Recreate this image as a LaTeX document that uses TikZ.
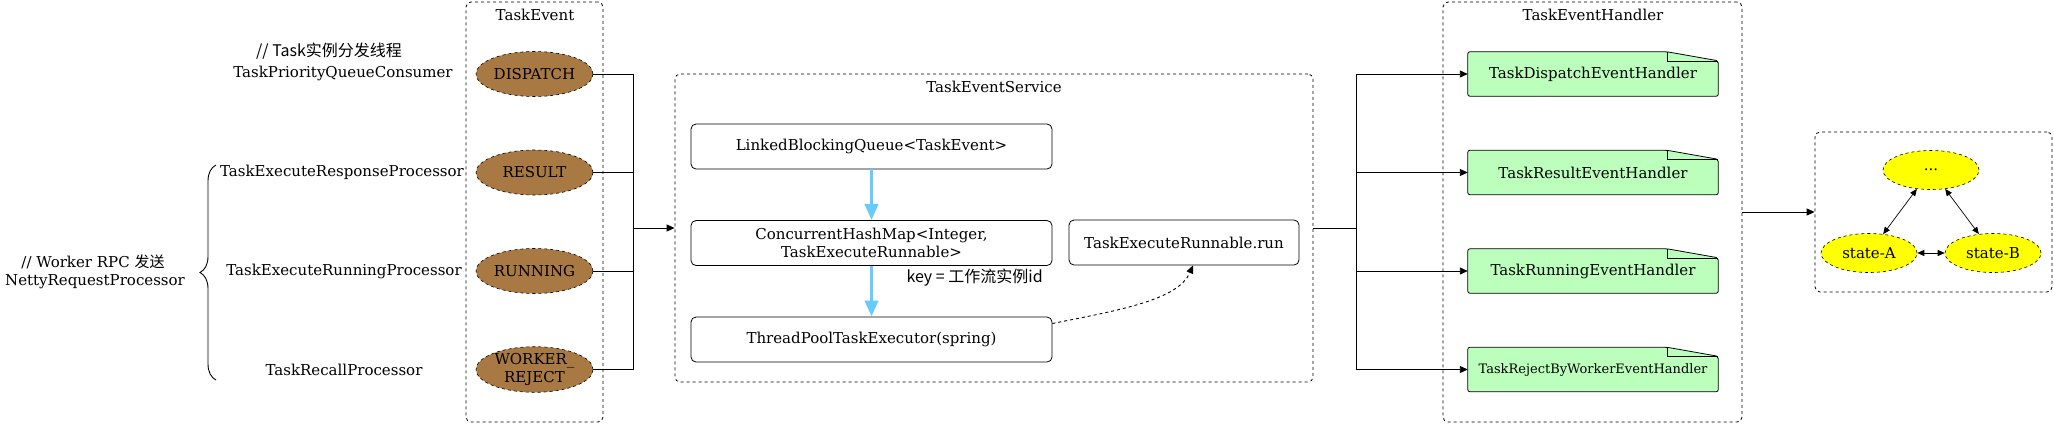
\documentclass[tikz,border=0pt]{standalone}
\usepackage{fontspec}
\setmainfont{DejaVu Serif}
\newfontfamily\cjk{Noto Sans CJK SC}
\usepackage{xcolor}
\usepackage{tikz}
\usetikzlibrary{arrows.meta,positioning,shapes.geometric,decorations.pathreplacing,backgrounds}
\definecolor{evbrown}{RGB}{168,121,66}
\definecolor{notegreen}{RGB}{188,255,188}
\definecolor{flowblue}{RGB}{102,204,255}
\definecolor{stateyellow}{RGB}{255,255,0}

\begin{document}
\begin{tikzpicture}[x=1pt,y=-1pt,
    font=\fontsize{15}{18}\selectfont,
    group/.style={draw, dashed, rounded corners=5pt, line width=0.8pt},
    evnode/.style={ellipse, draw, dashed, fill=evbrown, minimum width=117pt, minimum height=45pt, inner sep=0pt, align=center, line width=0.6pt},
    svcbox/.style={draw, rounded corners=5pt, minimum height=45pt, align=center, line width=0.8pt},
    handler/.style={minimum width=250pt, minimum height=44pt, inner sep=0pt},
    state/.style={ellipse, draw, dashed, fill=stateyellow, minimum width=96pt, minimum height=39pt, inner sep=0pt, line width=0.6pt},
    comment/.style={font=\cjk\fontsize{16}{18}\selectfont},
    conn/.style={line width=0.9pt},
    arr/.style={conn, -{Triangle[length=8pt,width=7pt]}},
    flow/.style={draw=flowblue, line width=3.5pt, -{Triangle[length=16pt,width=13pt]}},
    biarr/.style={line width=0.7pt, {Triangle[length=7pt,width=6pt]}-{Triangle[length=7pt,width=6pt]}}
]
    \useasboundingbox (0,0) rectangle (2054,424);

    % Containers
    \node[group, minimum width=137pt, minimum height=420pt] (evGroup) at (534.5,212) {};
    \node[group, minimum width=638pt, minimum height=308pt] (svcGroup) at (994,228) {};
    \node[group, minimum width=299pt, minimum height=420pt] (hdlGroup) at (1592.5,212) {};
    \node[group, minimum width=237pt, minimum height=160pt] (stGroup) at (1933.5,212) {};
    \node (evTitle) at (535,15) {TaskEvent};
    \node (svcTitle) at (994,87) {TaskEventService};
    \node (hdlTitle) at (1593,15) {TaskEventHandler};

    % Sources
    \node[comment] (cmtDispatch) at (329,51) {// Task实例分发线程};
    \node (srcConsumer) at (343,73) {TaskPriorityQueueConsumer};
    \node (srcResponse) at (342,172) {TaskExecuteResponseProcessor};
    \node (srcRunning) at (344,271) {TaskExecuteRunningProcessor};
    \node (srcRecall) at (344,370) {TaskRecallProcessor};
    \node (cmtWorker) at (93,262) {// Worker RPC {\cjk 发送}};
    \node (srcNetty) at (95,282) {NettyRequestProcessor};
    \draw[decorate, decoration={brace, amplitude=16pt}, line width=0.9pt] (216,380) -- (216,165);

    % Events
    \node[evnode] (evDispatch) at (534.5,74) {DISPATCH};
    \node[evnode] (evResult) at (534.5,172.5) {RESULT};
    \node[evnode] (evRunning) at (534.5,271) {RUNNING};
    \node[evnode] (evReject) at (534.5,369.5) {WORKER\char`_\\REJECT};

    \coordinate (busL) at (633,228);
    \foreach \e in {evDispatch,evResult,evRunning,evReject} {
        \draw[conn] (\e.east) -| (busL);
    }
    \draw[arr] (busL) -- (svcGroup.west);

    % Service internals
    \node[svcbox, minimum width=361pt] (lbq) at (871.5,146.5) {LinkedBlockingQueue<TaskEvent>};
    \node[svcbox, minimum width=361pt] (chm) at (871.5,243) {ConcurrentHashMap<Integer,\\TaskExecuteRunnable>};
    \node[svcbox, minimum width=361pt] (tpte) at (871.5,339.5) {ThreadPoolTaskExecutor(spring)};
    \node[svcbox, minimum width=230pt] (ter) at (1184,242.5) {TaskExecuteRunnable.run};
    \draw[flow] (lbq) -- (chm);
    \draw[flow] (chm) -- (tpte);
    \node[comment, anchor=west] (keyLbl) at (903,278) {key = 工作流实例id};
    \draw[conn, dashed, -{Triangle[length=8pt,width=7pt]}] ([yshift=16pt]tpte.east) .. controls (1120,310) and (1178,300) .. ([xshift=9pt]ter.south);

    % Handlers
    \node[handler] (hDispatch) at (1593,74) {TaskDispatchEventHandler};
    \node[handler] (hResult) at (1593,172.5) {TaskResultEventHandler};
    \node[handler] (hRunning) at (1593,271) {TaskRunningEventHandler};
    \node[handler, font=\fontsize{13}{15}\selectfont] (hReject) at (1593,369.5) {TaskRejectByWorkerEventHandler};
    \begin{scope}[on background layer]
        \foreach \h in {hDispatch,hResult,hRunning,hReject} {
            \filldraw[fill=notegreen, line width=0.8pt, rounded corners=2pt] (\h.south west) -- (\h.north west) -- ([xshift=-51pt]\h.north east) -- ([yshift=-9pt]\h.north east) -- (\h.south east) -- cycle;
            \draw[line width=0.6pt] ([xshift=-51pt]\h.north east) |- ([yshift=-9pt]\h.north east);
        }
    \end{scope}

    \coordinate (busR) at (1356,228);
    \draw[conn] (svcGroup.east) -- (busR);
    \foreach \h in {hDispatch,hResult,hRunning,hReject} {
        \draw[arr] (busR) |- (\h.west);
    }

    % States
    \draw[arr] (hdlGroup.east) -- (stGroup.west);
    \node[state] (stDots) at (1931,170) {...};
    \node[state] (stA) at (1869,253) {state-A};
    \node[state] (stB) at (1993,253) {state-B};
    \draw[biarr] (stDots) -- (stA);
    \draw[biarr] (stDots) -- (stB);
    \draw[biarr] (stA) -- (stB);
\end{tikzpicture}
\end{document}
